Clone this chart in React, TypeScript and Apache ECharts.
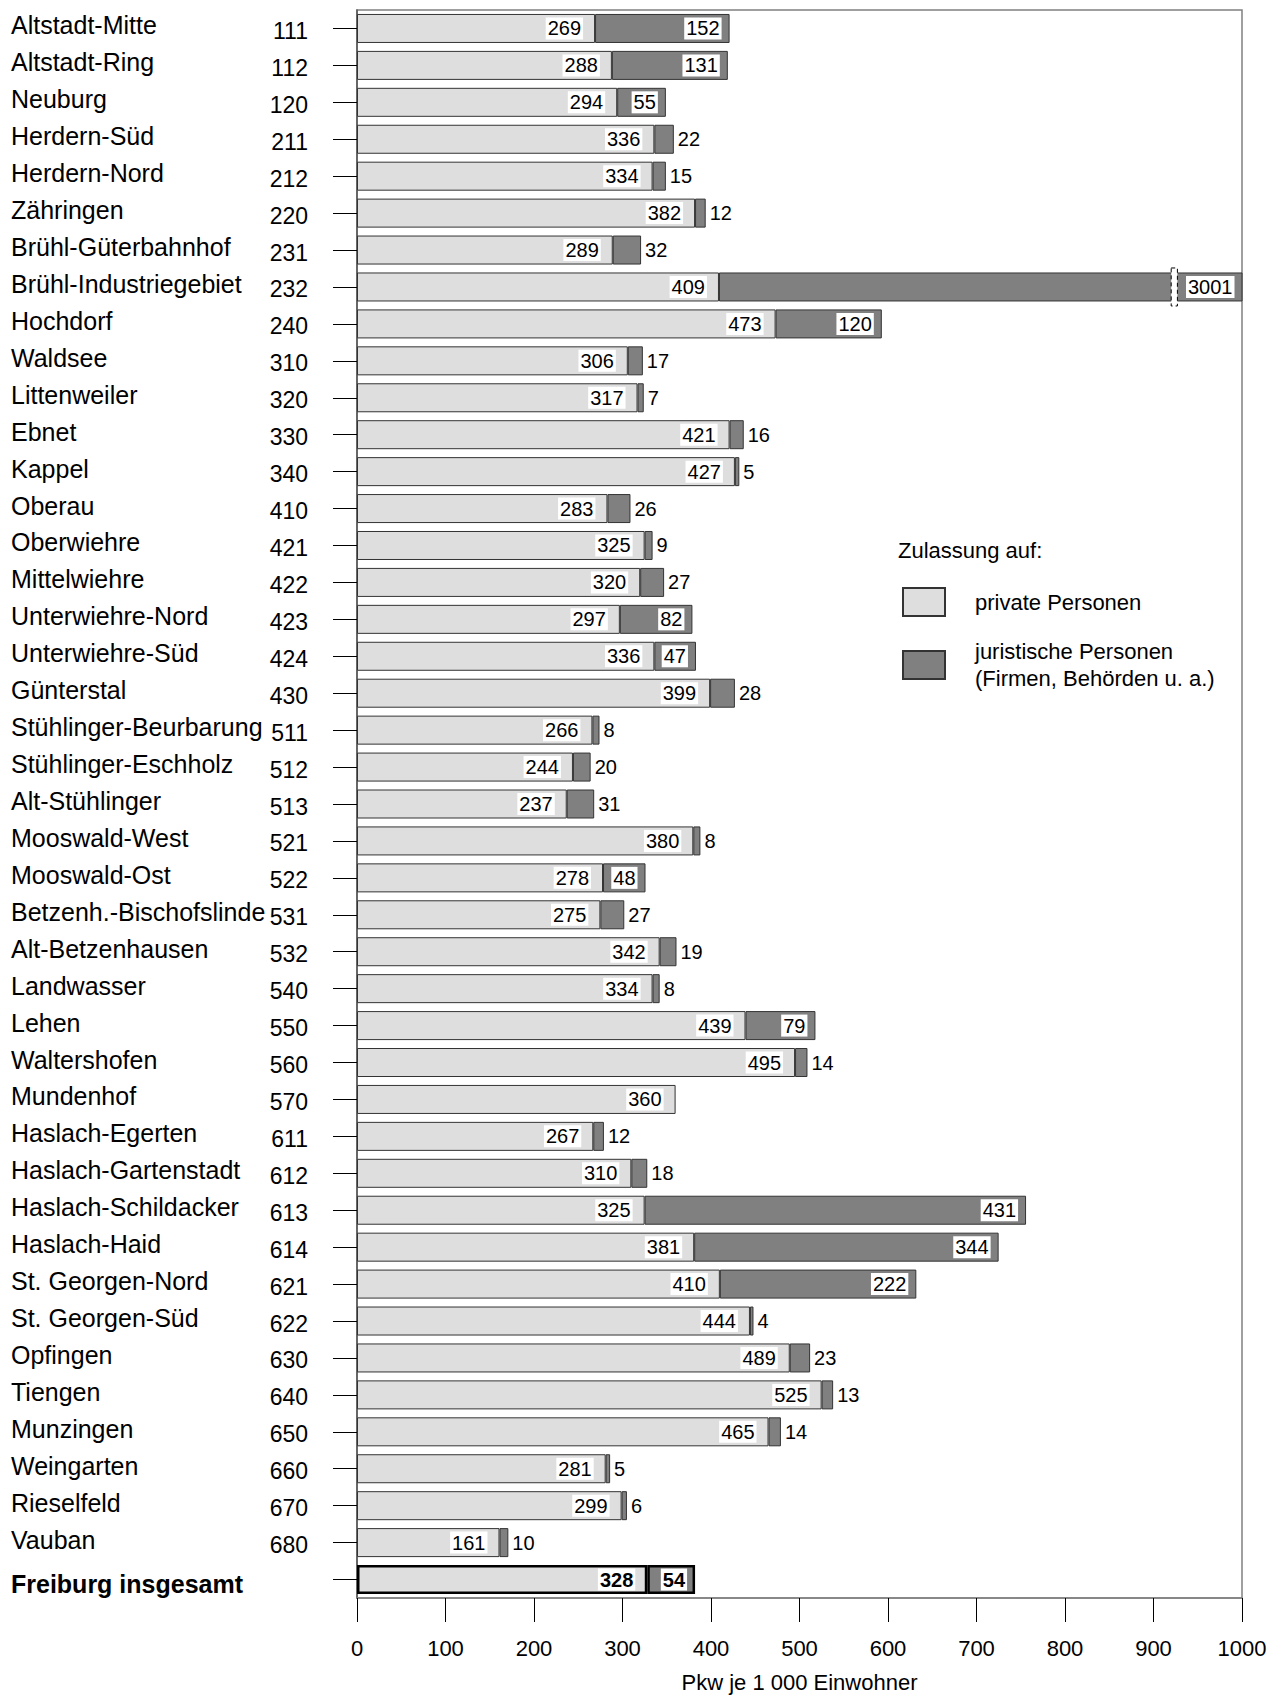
import React, { useEffect, useRef } from 'react';
import * as echarts from 'echarts';

const districts = [
  'Altstadt-Mitte', 'Altstadt-Ring', 'Neuburg', 'Herdern-Süd', 'Herdern-Nord', 'Zähringen',
  'Brühl-Güterbahnhof', 'Brühl-Industriegebiet', 'Hochdorf', 'Waldsee', 'Littenweiler', 'Ebnet',
  'Kappel', 'Oberau', 'Oberwiehre', 'Mittelwiehre', 'Unterwiehre-Nord', 'Unterwiehre-Süd',
  'Günterstal', 'Stühlinger-Beurbarung', 'Stühlinger-Eschholz', 'Alt-Stühlinger', 'Mooswald-West',
  'Mooswald-Ost', 'Betzenh.-Bischofslinde', 'Alt-Betzenhausen', 'Landwasser', 'Lehen',
  'Waltershofen', 'Mundenhof', 'Haslach-Egerten', 'Haslach-Gartenstadt', 'Haslach-Schildacker',
  'Haslach-Haid', 'St. Georgen-Nord', 'St. Georgen-Süd', 'Opfingen', 'Tiengen', 'Munzingen',
  'Weingarten', 'Rieselfeld', 'Vauban', 'Freiburg insgesamt',
];
const codes = [
  '111', '112', '120', '211', '212', '220', '231', '232', '240', '310', '320', '330', '340', '410',
  '421', '422', '423', '424', '430', '511', '512', '513', '521', '522', '531', '532', '540', '550',
  '560', '570', '611', '612', '613', '614', '621', '622', '630', '640', '650', '660', '670', '680', '',
];
const privateValues = [
  269, 288, 294, 336, 334, 382, 289, 409, 473, 306, 317, 421, 427, 283, 325, 320, 297, 336, 399,
  266, 244, 237, 380, 278, 275, 342, 334, 439, 495, 360, 267, 310, 325, 381, 410, 444, 489, 525,
  465, 281, 299, 161, 328,
];
const juristicValues: (number | null)[] = [
  152, 131, 55, 22, 15, 12, 32, 3001, 120, 17, 7, 16, 5, 26, 9, 27, 82, 47, 28, 8, 20, 31, 8, 48,
  27, 19, 8, 79, 14, null, 12, 18, 431, 344, 222, 4, 23, 13, 14, 5, 6, 10, 54,
];
const xMin = 0;
const xMax = 1000;
const xInterval = 100;
const BROKEN_CATEGORY = 'Brühl-Industriegebiet';
const BREAK_START = 920;
const BREAK_END = 927;

const FONT = 'Liberation Sans, Arial, Helvetica, sans-serif';
const LIGHT = '#dedede';
const DARK = '#808080';
const EDGE = '#333333';

export default function App() {
  const ref = useRef<HTMLDivElement>(null);

  useEffect(() => {
    if (!ref.current) return;
    const chart = echarts.init(ref.current, null, { renderer: 'svg' });
    const last = districts.length - 1;

    const privateData = privateValues.map((v, i) =>
      i === last
        ? { value: v, itemStyle: { borderWidth: 2.5, borderColor: '#000' }, label: { fontWeight: 'bold' } }
        : v
    );
    const juristicData = juristicValues.map((v, i) => {
      if (v == null) return '-';
      const inside = v >= 40;
      const label: any = inside
        ? { position: 'insideRight', distance: 8, backgroundColor: '#fff', padding: [1, 2] }
        : { position: 'right', distance: 4, backgroundColor: 'transparent', padding: 0 };
      if (i === last) label.fontWeight = 'bold';
      const item: any = { value: v, label };
      if (i === last) item.itemStyle = { borderWidth: 2.5, borderColor: '#000' };
      return item;
    });

    const option: any = {
      animation: false,
      textStyle: { fontFamily: FONT, color: '#000' },
      title: {
        text: 'Zulassung auf:',
        left: 898,
        top: 539,
        padding: 0,
        textStyle: { fontFamily: FONT, fontSize: 22, fontWeight: 'normal', color: '#000' },
      },
      legend: {
        orient: 'vertical',
        left: 902,
        top: 587,
        padding: 0,
        itemWidth: 42,
        itemHeight: 28,
        itemGap: 20,
        selectedMode: false,
        icon: 'rect',
        data: ['private Personen', 'juristische Personen\n(Firmen, Behörden u. a.)'],
        textStyle: { fontFamily: FONT, fontSize: 22, color: '#000', lineHeight: 27, padding: [2, 0, 0, 25] },
      },
      grid: {
        left: 357,
        top: 10,
        width: 885,
        height: 1591,
        show: true,
        borderColor: '#808080',
        borderWidth: 1.5,
        backgroundColor: 'transparent',
      },
      xAxis: {
        type: 'value',
        min: xMin,
        max: xMax,
        interval: xInterval,
        position: 'bottom',
        name: 'Pkw je 1 000 Einwohner',
        nameLocation: 'middle',
        nameGap: 73,
        nameTextStyle: { fontFamily: FONT, fontSize: 22, color: '#000' },
        axisLine: { show: true, lineStyle: { color: '#808080', width: 1.5 } },
        axisTick: { show: true, length: 24, lineStyle: { color: '#000', width: 1 } },
        axisLabel: {
          fontFamily: FONT,
          fontSize: 22,
          color: '#000',
          margin: 39,
          formatter: (v: number) => String(v),
        },
        splitLine: { show: false },
      },
      yAxis: {
        type: 'category',
        inverse: true,
        data: districts,
        axisLine: { show: true, lineStyle: { color: '#555', width: 1.5 } },
        axisTick: { show: true, alignWithLabel: true, length: 24, lineStyle: { color: '#000', width: 1 } },
        axisLabel: {
          margin: 49,
          interval: 0,
          formatter: (value: string, index: number) =>
            index === last ? `{b|${value}}` : `{n|${value}}{c|${codes[index]}}`,
          rich: {
            n: { fontFamily: FONT, fontSize: 25, color: '#000', width: 237, align: 'left', padding: [0, 0, 6, 0] },
            c: { fontFamily: FONT, fontSize: 23, color: '#000', width: 60, align: 'right', padding: [5, 0, 0, 0] },
            b: { fontFamily: FONT, fontSize: 25, fontWeight: 'bold', color: '#000', width: 297, align: 'left', padding: [8, 0, 0, 0] },
          },
        },
      },
      series: [
        {
          name: 'private Personen',
          type: 'bar',
          stack: 'pkw',
          barWidth: 29,
          data: privateData,
          itemStyle: { color: LIGHT, borderColor: EDGE, borderWidth: 1 },
          label: {
            show: true,
            position: 'insideRight',
            distance: 12,
            backgroundColor: '#fff',
            padding: [1, 2],
            fontFamily: FONT,
            fontSize: 20,
            color: '#000',
          },
        },
        {
          name: 'juristische Personen\n(Firmen, Behörden u. a.)',
          type: 'bar',
          stack: 'pkw',
          barWidth: 29,
          data: juristicData,
          itemStyle: { color: DARK, borderColor: EDGE, borderWidth: 1 },
          label: {
            show: true,
            fontFamily: FONT,
            fontSize: 20,
            color: '#000',
          },
        },
      ],
    };

    chart.setOption(option);

    const x1 = chart.convertToPixel({ xAxisIndex: 0 }, BREAK_START) as number;
    const x2 = chart.convertToPixel({ xAxisIndex: 0 }, BREAK_END) as number;
    const yc = chart.convertToPixel({ yAxisIndex: 0 }, BROKEN_CATEGORY) as number;
    chart.setOption({
      graphic: [
        {
          type: 'rect',
          z: 100,
          shape: { x: x1, y: yc - 19, width: x2 - x1, height: 38 },
          style: { fill: '#fff', stroke: '#000', lineWidth: 1, lineDash: [4, 3] },
        },
      ],
    });

    return () => chart.dispose();
  }, []);

  return (
    <div
      ref={ref}
      style={{ position: 'fixed', left: 0, top: 0, width: 1281, height: 1698, background: '#fff' }}
    />
  );
}
